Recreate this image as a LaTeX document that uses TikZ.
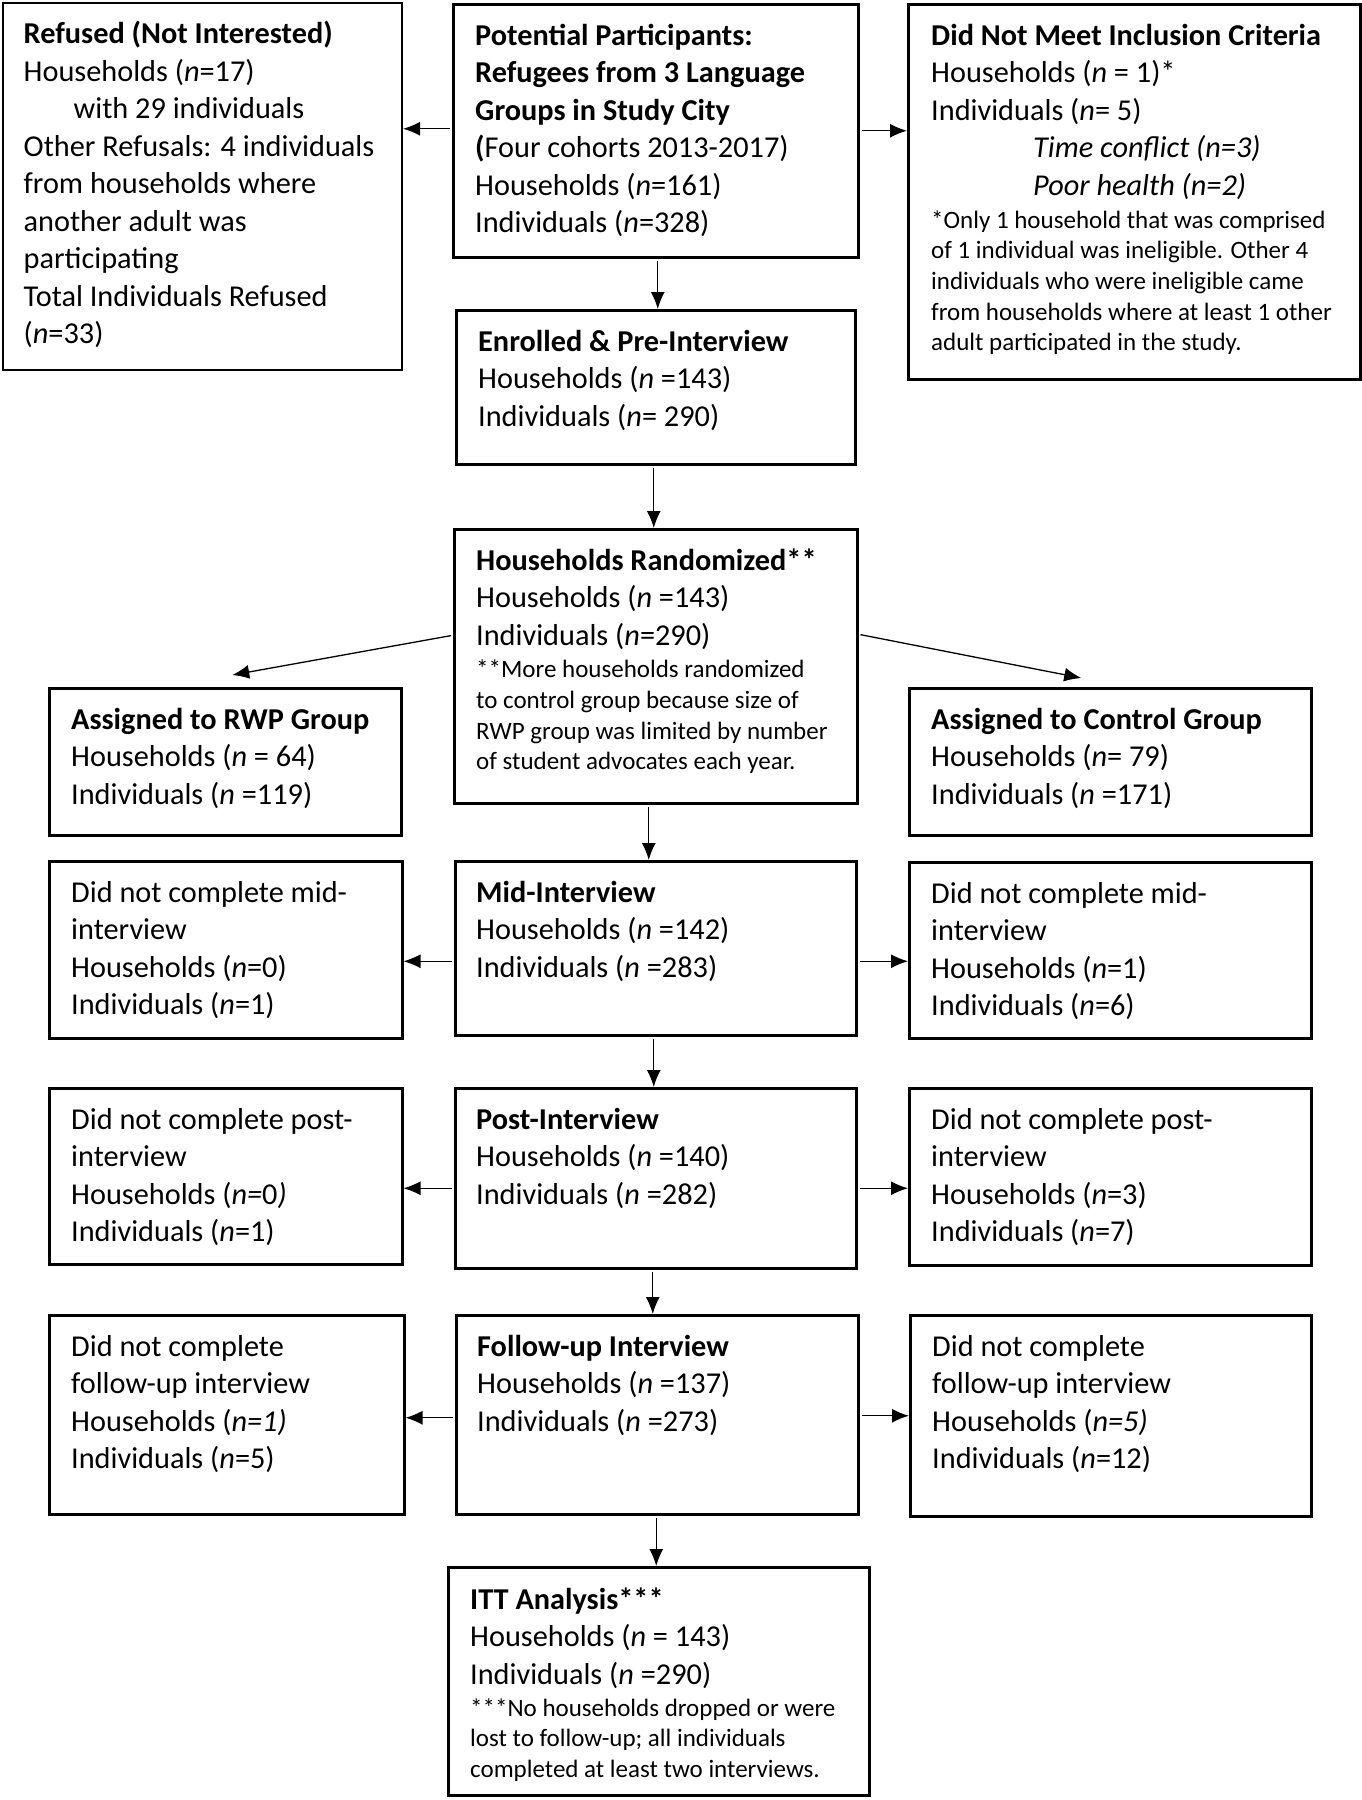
\documentclass[tikz,border=0pt]{standalone}
\usepackage{fontspec}
\setmainfont{Carlito}
\usetikzlibrary{arrows.meta}
\newcommand\mainfs{\fontsize{30.3pt}{37.5pt}\selectfont}
\newcommand\notefs{\fontsize{25pt}{30.7pt}\selectfont}
\newcommand\nit{\textit{n}}
\tikzset{
  box/.style={draw, line width=2.5pt, rectangle, inner sep=0pt, anchor=north west},
  txt/.style={anchor=north west, inner sep=0pt, align=left, font=\mainfs},
  note/.style={anchor=north west, inner sep=0pt, align=left, font=\notefs},
  arr/.style={line width=1.3pt, -{Latex[length=17pt,width=14pt]}, shorten <=2pt},
}
\begin{document}
\begin{tikzpicture}[x=1pt,y=-1pt]
\useasboundingbox[fill=white] (0,0) rectangle (1362,1800);
% boxes
\node[box, minimum width=399pt, minimum height=367pt] (ref) at (1.5,1.5) {};
\node[box, minimum width=405pt, minimum height=253pt] (pot) at (452,3) {};
\node[box, minimum width=452pt, minimum height=375pt] (inc) at (907,3) {};
\node[box, minimum width=399pt, minimum height=154pt] (enr) at (455,309) {};
\node[box, minimum width=403pt, minimum height=274pt] (rand) at (453,528) {};
\node[box, minimum width=352pt, minimum height=147pt] (rwp) at (48,687) {};
\node[box, minimum width=402pt, minimum height=147pt] (ctl) at (908,687) {};
\node[box, minimum width=353pt, minimum height=177pt] (midl) at (48,860) {};
\node[box, minimum width=401pt, minimum height=174pt] (mid) at (454,860) {};
\node[box, minimum width=402pt, minimum height=176pt] (midr) at (908,861) {};
\node[box, minimum width=353pt, minimum height=176pt] (postl) at (48,1087) {};
\node[box, minimum width=401pt, minimum height=180pt] (post) at (454,1087) {};
\node[box, minimum width=402pt, minimum height=177pt] (postr) at (908,1087) {};
\node[box, minimum width=355pt, minimum height=199pt] (foll) at (48,1314) {};
\node[box, minimum width=402pt, minimum height=199pt] (fol) at (455,1314) {};
\node[box, minimum width=401pt, minimum height=201pt] (folr) at (909,1314) {};
\node[box, minimum width=421pt, minimum height=228pt] (itt) at (447,1566) {};
% texts
\node[txt] (reft) at ([xshift=22pt,yshift=-16pt]ref.north west) {\strut\textbf{Refused (Not Interested)}\\
Households (\nit=17)\\
\hspace*{50pt}with 29 individuals\\
Other Refusals: 4 individuals\\
from households where\\
another adult was\\
participating\\
Total Individuals Refused\\
(\nit=33)};
\node[txt] (pott) at ([xshift=23pt,yshift=-16pt]pot.north west) {\strut\textbf{Potential Participants:}\\
\textbf{Refugees from 3 Language}\\
\textbf{Groups in Study City}\\
\textbf{(}Four cohorts 2013-2017)\\
Households (\nit=161)\\
Individuals (\nit=328)};
\node[txt] (inct) at ([xshift=24pt,yshift=-16pt]inc.north west) {\strut\textbf{Did Not Meet Inclusion Criteria}\\
Households (\nit{} = 1)*\\
Individuals (\nit= 5)\\
\hspace*{102pt}\textit{Time conflict (n=3)}\\
\hspace*{102pt}\textit{Poor health (n=2)}};
\node[note] (incn) at ([xshift=24pt,yshift=-203.5pt]inc.north west) {\strut*Only 1 household that was comprised\\
of 1 individual was ineligible. Other 4\\
individuals who were ineligible came\\
from households where at least 1 other\\
adult participated in the study.};
\node[txt] (enrt) at ([xshift=23pt,yshift=-16pt]enr.north west) {\strut\textbf{Enrolled \& Pre-Interview}\\
Households (\nit{} =143)\\
Individuals (\nit= 290)};
\node[txt] (randt) at ([xshift=23pt,yshift=-16pt]rand.north west) {\strut\textbf{Households Randomized**}\\
Households (\nit{} =143)\\
Individuals (\nit=290)};
\node[note] (randn) at ([xshift=23pt,yshift=-128pt]rand.north west) {\strut**More households randomized\\
to control group because size of\\
RWP group was limited by number\\
of student advocates each year.};
\node[txt] (rwpt) at ([xshift=23pt,yshift=-16pt]rwp.north west) {\strut\textbf{Assigned to RWP Group}\\
Households (\nit{} = 64)\\
Individuals (\nit{} =119)};
\node[txt] (ctlt) at ([xshift=23pt,yshift=-16pt]ctl.north west) {\strut\textbf{Assigned to Control Group}\\
Households (\nit= 79)\\
Individuals (\nit{} =171)};
\node[txt] (midlt) at ([xshift=23pt,yshift=-16pt]midl.north west) {\strut Did not complete mid-\\
interview\\
Households (\nit=0)\\
Individuals (\nit=1)};
\node[txt] (midt) at ([xshift=22pt,yshift=-16pt]mid.north west) {\strut\textbf{Mid-Interview}\\
Households (\nit{} =142)\\
Individuals (\nit{} =283)};
\node[txt] (midrt) at ([xshift=23pt,yshift=-16pt]midr.north west) {\strut Did not complete mid-\\
interview\\
Households (\nit=1)\\
Individuals (\nit=6)};
\node[txt] (postlt) at ([xshift=23pt,yshift=-16pt]postl.north west) {\strut Did not complete post-\\
interview\\
Households (\textit{n=}0\textit{)}\\
Individuals (\nit=1)};
\node[txt] (postt) at ([xshift=22pt,yshift=-16pt]post.north west) {\strut\textbf{Post-Interview}\\
Households (\nit{} =140)\\
Individuals (\nit{} =282)};
\node[txt] (postrt) at ([xshift=23pt,yshift=-16pt]postr.north west) {\strut Did not complete post-\\
interview\\
Households (\nit=3)\\
Individuals (\nit=7)};
\node[txt] (follt) at ([xshift=23pt,yshift=-16pt]foll.north west) {\strut Did not complete\\
follow-up interview\\
Households (\textit{n=1)}\\
Individuals (\nit=5)};
\node[txt] (folt) at ([xshift=22pt,yshift=-16pt]fol.north west) {\strut\textbf{Follow-up Interview}\\
Households (\nit{} =137)\\
Individuals (\nit{} =273)};
\node[txt] (folrt) at ([xshift=23pt,yshift=-16pt]folr.north west) {\strut Did not complete\\
follow-up interview\\
Households (\textit{n=5)}\\
Individuals (\nit=12)};
\node[txt] (ittt) at ([xshift=23pt,yshift=-17pt]itt.north west) {\strut\textbf{ITT Analysis***}\\
Households (\nit{} = 143)\\
Individuals (\nit{} =290)};
\node[note] (ittn) at ([xshift=23pt,yshift=-128.5pt]itt.north west) {\strut***No households dropped or were\\
lost to follow-up; all individuals\\
completed at least two interviews.};
% connectors
\draw[arr] ([yshift=2pt]pot.west) -- ([yshift=2pt]pot.west -| ref.east);
\draw[arr] (pot.east) -- (pot.east -| inc.west);
\draw[arr] ([xshift=2pt]pot.south) -- ([xshift=2pt]pot.south |- enr.north);
\draw[arr] ([xshift=-2pt]enr.south) -- ([xshift=-2pt]enr.south |- rand.north);
\draw[arr] ([yshift=31pt]rand.west) -- ([xshift=7pt,yshift=12pt]rwp.north);
\draw[arr] ([yshift=32pt]rand.east) -- ([xshift=-29pt,yshift=9pt]ctl.north);
\draw[arr] ([xshift=-7pt]rand.south) -- ([xshift=-7pt]rand.south |- mid.north);
\draw[arr] ([yshift=-13pt]mid.west) -- ([yshift=-13pt]mid.west -| midl.east);
\draw[arr] ([yshift=-13pt]mid.east) -- ([yshift=-13pt]mid.east -| midr.west);
\draw[arr] ([xshift=-2pt]mid.south) -- ([xshift=-2pt]mid.south |- post.north);
\draw[arr] ([yshift=-10pt]post.west) -- ([yshift=-10pt]post.west -| postl.east);
\draw[arr] ([yshift=-10pt]post.east) -- ([yshift=-10pt]post.east -| postr.west);
\draw[arr] ([xshift=-3pt]post.south) -- ([xshift=-3pt]post.south |- fol.north);
\draw[arr] ([yshift=-3pt]fol.west) -- ([yshift=-3pt]fol.west -| foll.east);
\draw[arr] ([yshift=-1pt]fol.east) -- ([yshift=-1pt]fol.east -| folr.west);
\draw[arr] ([xshift=-1pt]fol.south) -- ([xshift=-1pt]fol.south |- itt.north);
\end{tikzpicture}
\end{document}
